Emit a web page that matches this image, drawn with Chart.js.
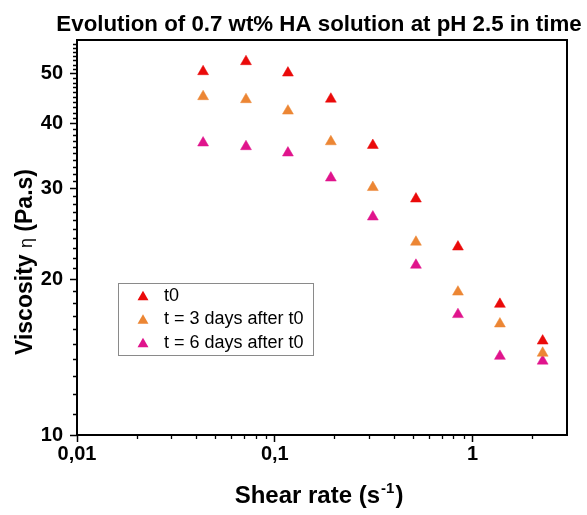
<!DOCTYPE html>
<html><head><meta charset="utf-8">
<script src="https://cdn.jsdelivr.net/npm/chart.js@4.4.1/dist/chart.umd.min.js"></script>
<style>html,body{margin:0;padding:0;background:#fff}canvas{display:block}</style>
</head><body>
<canvas id="c" width="587" height="515"></canvas>
<script>
// ---- data ----
const shearRate = [0.0434, 0.0715, 0.1165, 0.192, 0.313, 0.517, 0.843, 1.374, 2.26];
const viscT0 = [50.4, 52.7, 50.1, 44.6, 36.3, 28.6, 23.1, 17.9, 15.2];
const viscT3 = [45.1, 44.5, 42.3, 36.9, 30.1, 23.6, 18.9, 16.4, 14.4];
const viscT6 = [36.7, 36.1, 35.1, 31.4, 26.4, 21.3, 17.1, 14.2, 13.9];
const seriesLabels = ['t0', 't = 3 days after t0', 't = 6 days after t0'];
const seriesColors = ['#ea0a0a', '#ec8634', '#e0148c'];
const xTickValues = [0.01, 0.1, 1];
const xTickLabels = ['0,01', '0,1', '1'];
const yTickValues = [10, 20, 30, 40, 50];
const yTickLabels = ['10', '20', '30', '40', '50'];
const titleText = 'Evolution of 0.7 wt% HA solution at pH 2.5 in time';
const xTitleParts = ['Shear rate (s', '-1', ')'];
const yTitleParts = ['Viscosity ', '\u03B7', ' (Pa.s)'];

const FONT = "'Liberation Sans', Arial, Helvetica, sans-serif";
const X_MIN = 0.01, X_MAX = 3.0, Y_MIN = 10, Y_MAX = 58;

// minor tick positions
const xMinor = [];
[0.01, 0.1, 1].forEach(d => { for (let k = 2; k <= 9; k++) { const v = +(d * k).toPrecision(6); if (v < X_MAX) xMinor.push(v); } });
const yMinor = [];
for (let v = 11; v < Y_MAX; v++) if (v % 10 !== 0) yMinor.push(v);

function near(a, b) { return Math.abs(a - b) / b < 1e-6; }
function labelFor(vals, labels, v) { for (let i = 0; i < vals.length; i++) if (near(v, vals[i])) return labels[i]; return ''; }

const datasets = [viscT0, viscT3, viscT6].map((arr, i) => ({
  label: seriesLabels[i],
  data: shearRate.map((x, j) => ({ x: x, y: arr[j] })),
  pointStyle: 'triangle',
  pointRadius: 6.3,
  pointHoverRadius: 6.3,
  backgroundColor: seriesColors[i],
  borderColor: seriesColors[i],
  borderWidth: 0.5,
  showLine: false
}));

function drawTri(ctx, x, y, r, color) {
  ctx.beginPath();
  ctx.moveTo(x, y - r);
  ctx.lineTo(x + r * Math.sin(2 * Math.PI / 3), y - r * Math.cos(2 * Math.PI / 3));
  ctx.lineTo(x + r * Math.sin(4 * Math.PI / 3), y - r * Math.cos(4 * Math.PI / 3));
  ctx.closePath();
  ctx.fillStyle = color; ctx.fill();
}

const decor = {
  id: 'decor',
  afterDraw(chart) {
    const { ctx, chartArea: a, scales: { x, y } } = chart;
    ctx.save();
    // minor ticks
    ctx.strokeStyle = '#000'; ctx.lineWidth = 1.3;
    ctx.beginPath();
    xMinor.forEach(v => { const px = Math.round(x.getPixelForValue(v)) + 0.5; ctx.moveTo(px, a.bottom); ctx.lineTo(px, a.bottom + 4); });
    yMinor.forEach(v => { const py = Math.round(y.getPixelForValue(v)) + 0.5; ctx.moveTo(a.left, py); ctx.lineTo(a.left - 4, py); });
    ctx.stroke();
    // frame
    ctx.lineWidth = 2; ctx.strokeStyle = '#000';
    ctx.strokeRect(a.left, a.top, a.right - a.left, a.bottom - a.top);

    // chart title
    ctx.fillStyle = '#000'; ctx.textBaseline = 'alphabetic'; ctx.textAlign = 'center';
    ctx.font = 'bold 22.3px ' + FONT;
    ctx.fillText(titleText, 319, 31);

    // x axis title with superscript
    ctx.textAlign = 'left';
    const fMain = 'bold 24px ' + FONT, fSup = 'bold 15px ' + FONT;
    ctx.font = fMain; const w0 = ctx.measureText(xTitleParts[0]).width, w2 = ctx.measureText(xTitleParts[2]).width;
    ctx.font = fSup; const w1 = ctx.measureText(xTitleParts[1]).width;
    let tx = (a.left + a.right) / 2 - (w0 + w1 + w2) / 2 - 4;
    const ty = 503;
    ctx.font = fMain; ctx.fillText(xTitleParts[0], tx, ty); tx += w0 + 1;
    ctx.font = fSup; ctx.fillText(xTitleParts[1], tx, ty - 10); tx += w1 + 1;
    ctx.font = fMain; ctx.fillText(xTitleParts[2], tx, ty);

    // y axis title (rotated), eta in regular weight
    ctx.save();
    ctx.translate(32, 262);
    ctx.rotate(-Math.PI / 2);
    const yf = ['bold 23px ' + FONT, '18px ' + FONT, 'bold 23px ' + FONT];
    const yw = yTitleParts.map((t, i) => { ctx.font = yf[i]; return ctx.measureText(t).width; });
    let yx = -(yw[0] + yw[1] + yw[2]) / 2;
    yTitleParts.forEach((t, i) => { ctx.font = yf[i]; ctx.fillText(t, yx, 0); yx += yw[i]; });
    ctx.restore();

    // legend
    const lx = 118, ly = 283, lw = 195, lh = 72;
    ctx.lineWidth = 1; ctx.strokeStyle = '#8a8a8a';
    ctx.strokeRect(lx + 0.5, ly + 0.5, lw, lh);
    ctx.font = '18px ' + FONT; ctx.textBaseline = 'middle'; ctx.textAlign = 'left';
    seriesLabels.forEach((lab, i) => {
      const cy = ly + 13 + i * 23.5;
      drawTri(ctx, 143, cy + 1, 6.3, seriesColors[i]);
      ctx.fillStyle = '#000';
      ctx.fillText(lab, 164, cy);
    });
    ctx.restore();
  }
};

new Chart(document.getElementById('c'), {
  type: 'scatter',
  data: { datasets },
  plugins: [decor],
  options: {
    responsive: false,
    animation: false,
    devicePixelRatio: 1,
    layout: { padding: { left: 0, right: 20, top: 40, bottom: 0 } },
    plugins: {
      legend: { display: false },
      tooltip: { enabled: false },
      title: { display: false }
    },
    scales: {
      x: {
        type: 'logarithmic', min: X_MIN, max: X_MAX,
        afterBuildTicks: s => { s.ticks = xTickValues.map(v => ({ value: v })); },
        afterFit: s => { s.height = 80; },
        border: { display: false },
        grid: { display: true, drawOnChartArea: false, drawTicks: true, tickLength: 7, tickWidth: 1.5, tickColor: '#000' },
        ticks: {
          autoSkip: false, maxRotation: 0, padding: 0, color: '#000',
          font: { family: FONT, size: 20, weight: 'bold' },
          callback: v => labelFor(xTickValues, xTickLabels, v)
        },
        title: { display: false }
      },
      y: {
        type: 'logarithmic', min: Y_MIN, max: Y_MAX,
        afterBuildTicks: s => { s.ticks = yTickValues.map(v => ({ value: v })); },
        afterFit: s => { s.width = 77; },
        border: { display: false },
        grid: { display: true, drawOnChartArea: false, drawTicks: true, tickLength: 7, tickWidth: 1.5, tickColor: '#000' },
        ticks: {
          autoSkip: false, padding: 7, color: '#000',
          font: { family: FONT, size: 20, weight: 'bold' },
          callback: v => labelFor(yTickValues, yTickLabels, v)
        },
        title: { display: false }
      }
    }
  }
});
</script>
</body></html>
